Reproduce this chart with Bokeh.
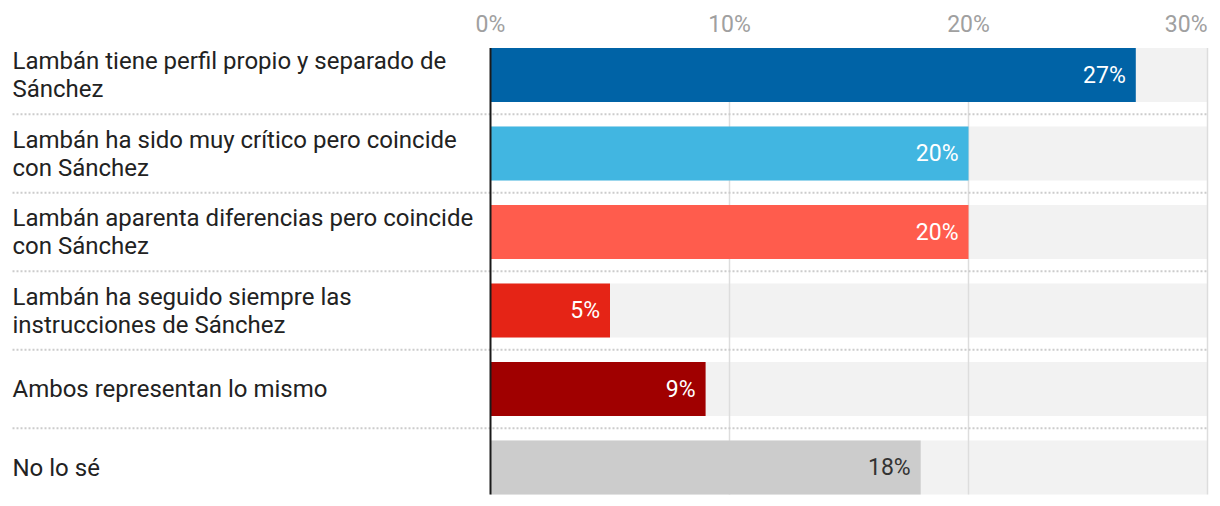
from bokeh.plotting import figure
from bokeh.models import Range1d, ColumnDataSource
from bokeh.core.properties import value
from bokeh.embed import file_html
from bokeh.resources import INLINE

categories = [
    "Lambán tiene perfil propio y separado de\nSánchez",
    "Lambán ha sido muy crítico pero coincide\ncon Sánchez",
    "Lambán aparenta diferencias pero coincide\ncon Sánchez",
    "Lambán ha seguido siempre las\ninstrucciones de Sánchez",
    "Ambos representan lo mismo",
    "No lo sé",
]
values = [27, 20, 20, 5, 9, 18]
value_labels = ["27%", "20%", "20%", "5%", "9%", "18%"]
colors = ["#0063a6", "#41b6e1", "#ff5c4d", "#e52416", "#a00000", "#cccccc"]
label_colors = ["#ffffff", "#ffffff", "#ffffff", "#ffffff", "#ffffff", "#333333"]
ticks = [0, 10, 20, 30]
tick_labels = ["0%", "10%", "20%", "30%"]
x_max = 30

# layout (pixels)
W, H = 1220, 506
x0_px, x30_px = 490, 1207
ppu = (x30_px - x0_px) / x_max
row0_px, pitch_px = 74.5, 78.5
label_px = 12
tick_px = 24

xs = -x0_px / ppu
xe = x_max + (W - x30_px) / ppu
ys = -row0_px / pitch_px
ye = (H - row0_px) / pitch_px

p = figure(width=W, height=H, output_backend="svg", toolbar_location=None,
           x_range=Range1d(xs, xe), y_range=Range1d(ye, ys),
           min_border=0, outline_line_color=None)
p.xaxis.visible = False
p.yaxis.visible = False
p.xgrid.visible = False
p.ygrid.visible = False
p.background_fill_color = "white"
p.border_fill_color = "white"

n = len(categories)
rows = list(range(n))
bh = 0.69
src = ColumnDataSource(dict(y=rows, v=values, c=colors, lab=value_labels,
                            lc=label_colors, cat=categories,
                            full=[x_max] * n))

# background bars
p.hbar(y="y", left=0, right="full", height=bh, source=src,
       fill_color="#f2f2f2", line_color=None)

# gridlines
top = -bh / 2
bot = n - 1 + bh / 2
p.segment(x0=ticks[1:], y0=[top] * 3, x1=ticks[1:], y1=[bot] * 3,
          line_color="#dddddd", line_width=1.5)

# separators
lx = xs + label_px / ppu
seps = [i + 0.5 for i in range(n - 1)]
p.segment(x0=[lx] * len(seps), y0=seps, x1=[x_max] * len(seps), y1=seps,
          line_color="#cccccc", line_width=2, line_dash="2 2")

# colored bars
p.hbar(y="y", left=0, right="v", height=bh, source=src,
       fill_color="c", line_color=None)

# zero axis line
p.segment(x0=[0], y0=[top], x1=[0], y1=[bot], line_color="#1a1a1a", line_width=2)

# value labels
p.text(x="v", y="y", text="lab", source=src, text_color="lc",
       text_align="right", text_baseline="middle", x_offset=-10,
       text_font=value("Roboto"), text_font_size="23px")

# category labels
p.text(x=lx, y="y", text="cat", source=src, text_color="#222222",
       text_align="left", text_baseline="middle", text_line_height=1.0,
       text_font=value("Roboto"), text_font_size="24px")

# tick labels
tick_y = (tick_px - row0_px) / pitch_px
aligns = ["center"] * (len(ticks) - 1) + ["right"]
p.text(x=ticks, y=[tick_y] * len(ticks), text=tick_labels, text_color="#a0a0a0",
       text_align=aligns, text_baseline="middle",
       text_font=value("Roboto"), text_font_size="23px")

open("out.html", "w").write(file_html(p, INLINE))
